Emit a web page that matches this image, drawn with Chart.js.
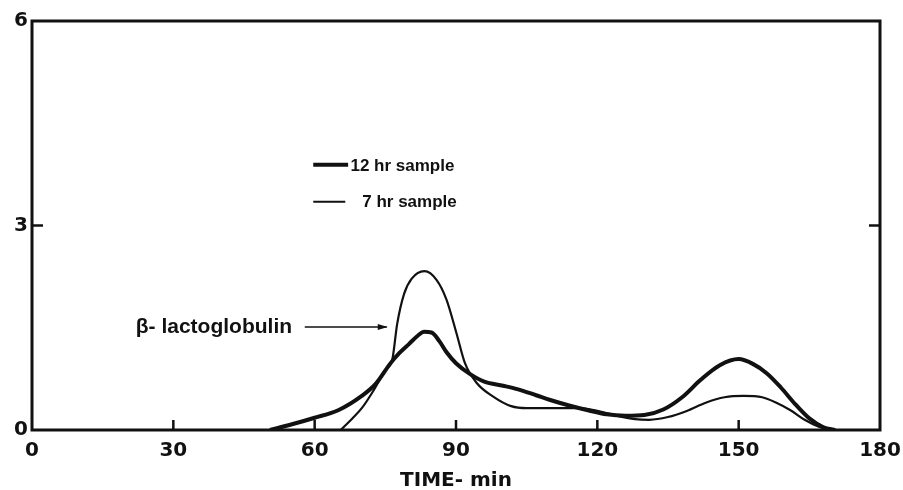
<!DOCTYPE html>
<html>
<head>
<meta charset="utf-8">
<script src="https://cdn.jsdelivr.net/npm/chart.js@4.4.1/dist/chart.umd.min.js"></script>
<style>
  html, body { margin: 0; padding: 0; background: #fff; }
  #wrap { width: 903px; height: 490px; }
</style>
</head>
<body>
<div id="wrap"><canvas id="chart"></canvas></div>
<script>
// 12 hr sample (thick curve)
const time12 = [50.5, 55, 60, 65, 70, 73, 76, 78, 80, 82, 83.2, 84.8, 86.5, 88, 90, 93, 96, 100, 103, 107, 110, 114, 118, 122, 126, 130, 134, 138, 142, 146, 150, 153, 156, 159, 162, 165, 168, 170.5];
const val12  = [0, 0.08, 0.18, 0.29, 0.50, 0.68, 0.97, 1.13, 1.26, 1.39, 1.44, 1.43, 1.30, 1.14, 0.98, 0.82, 0.71, 0.65, 0.60, 0.51, 0.44, 0.36, 0.29, 0.23, 0.21, 0.22, 0.30, 0.48, 0.74, 0.95, 1.04, 0.97, 0.83, 0.62, 0.38, 0.17, 0.04, 0];

// 7 hr sample (thin curve)
const time7 = [65.5, 68, 70, 72.5, 75, 76.5, 77.5, 79, 80.6, 83.3, 85.9, 88, 90.1, 91.9, 94.4, 97.9, 101.7, 105, 110, 116, 120, 124, 128, 131, 135, 139, 143, 147, 151, 155, 158, 161, 164, 167, 170];
const val7  = [0, 0.17, 0.32, 0.58, 0.88, 1.04, 1.55, 2.0, 2.22, 2.33, 2.2, 1.91, 1.42, 0.98, 0.69, 0.49, 0.35, 0.32, 0.32, 0.32, 0.28, 0.21, 0.16, 0.15, 0.19, 0.28, 0.40, 0.48, 0.50, 0.48, 0.40, 0.29, 0.15, 0.05, 0];

const xTicks = [0, 30, 60, 90, 120, 150, 180];
const yTicks = [0, 3, 6];

const INK = '#111';
const toPoints = (xs, ys) => xs.map((x, i) => ({ x: x, y: ys[i] }));

// frame, inward tick marks, legend and the arrow label
const decor = {
    id: 'decor',
    afterDatasetsDraw(chart) {
        const { ctx, chartArea: a, scales: { x, y } } = chart;
        const seg = (x1, y1, x2, y2, w) => {
            ctx.lineWidth = w;
            ctx.beginPath(); ctx.moveTo(x1, y1); ctx.lineTo(x2, y2); ctx.stroke();
        };
        ctx.save();
        ctx.strokeStyle = INK;
        ctx.fillStyle = INK;
        ctx.lineWidth = 3;
        ctx.strokeRect(a.left, a.top, a.right - a.left, a.bottom - a.top);

        xTicks.slice(1, -1).forEach(v => {
            const px = x.getPixelForValue(v);
            seg(px, a.bottom, px, a.bottom - 10, 2.5);
        });
        yTicks.slice(1, -1).forEach(v => {
            const py = y.getPixelForValue(v);
            seg(a.left, py, a.left + 11, py, 2.5);
            seg(a.right - 11, py, a.right, py, 2.5);
        });

        // legend
        ctx.font = 'bold 17px "Liberation Sans"';
        ctx.textBaseline = 'middle';
        ctx.textAlign = 'left';
        let py = y.getPixelForValue(3.89);
        seg(x.getPixelForValue(59.7), py, x.getPixelForValue(67.1), py, 4);
        ctx.fillText('12 hr sample', x.getPixelForValue(67.6), py + 1);
        py = y.getPixelForValue(3.35);
        seg(x.getPixelForValue(59.7), py, x.getPixelForValue(66.5), py, 2);
        ctx.fillText('7 hr sample', x.getPixelForValue(70.1), py + 1);

        // peak label with arrow
        py = y.getPixelForValue(1.51);
        ctx.font = 'bold 21px "Liberation Sans"';
        ctx.textAlign = 'right';
        ctx.fillText('β- lactoglobulin', x.getPixelForValue(55.2), py);
        const x1 = x.getPixelForValue(57.9), x2 = x.getPixelForValue(75.3);
        seg(x1, py, x2, py, 1.5);
        ctx.beginPath();
        ctx.moveTo(x2 + 1, py);
        ctx.lineTo(x2 - 9, py - 3);
        ctx.lineTo(x2 - 9, py + 3);
        ctx.closePath();
        ctx.fill();
        ctx.restore();
    }
};

const tickFont = { family: 'DejaVu Sans', weight: 'bold', size: 20 };

new Chart(document.getElementById('chart'), {
    type: 'line',
    data: {
        datasets: [{
            label: '12 hr sample',
            data: toPoints(time12, val12),
            borderColor: INK,
            borderWidth: 4,
            pointRadius: 0,
            cubicInterpolationMode: 'monotone'
        }, {
            label: '7 hr sample',
            data: toPoints(time7, val7),
            borderColor: INK,
            borderWidth: 2.2,
            pointRadius: 0,
            cubicInterpolationMode: 'monotone'
        }]
    },
    options: {
        responsive: true,
        maintainAspectRatio: false,
        animation: false,
        layout: { padding: { top: 21, right: 23, left: 0, bottom: 0 } },
        plugins: { legend: { display: false }, tooltip: { enabled: false } },
        scales: {
            x: {
                type: 'linear',
                min: 0,
                max: 180,
                afterBuildTicks: s => { s.ticks = xTicks.map(v => ({ value: v })); },
                afterFit: s => { s.height = 60; s.paddingLeft = 0; s.paddingRight = 0; },
                grid: { display: false, drawTicks: false },
                border: { display: false },
                ticks: { color: INK, font: tickFont, padding: 9, maxRotation: 0 },
                title: {
                    display: true,
                    text: 'TIME- min',
                    color: INK,
                    font: { family: 'DejaVu Sans', weight: 'bold', size: 20, lineHeight: 1 },
                    padding: { top: 0, bottom: -1 }
                }
            },
            y: {
                min: 0,
                max: 6,
                afterBuildTicks: s => { s.ticks = yTicks.map(v => ({ value: v })); },
                afterFit: s => { s.width = 32; s.paddingTop = 0; s.paddingBottom = 0; },
                grid: { display: false, drawTicks: false },
                border: { display: false },
                ticks: { color: INK, font: tickFont, padding: 4 }
            }
        }
    },
    plugins: [decor]
});
</script>
</body>
</html>
